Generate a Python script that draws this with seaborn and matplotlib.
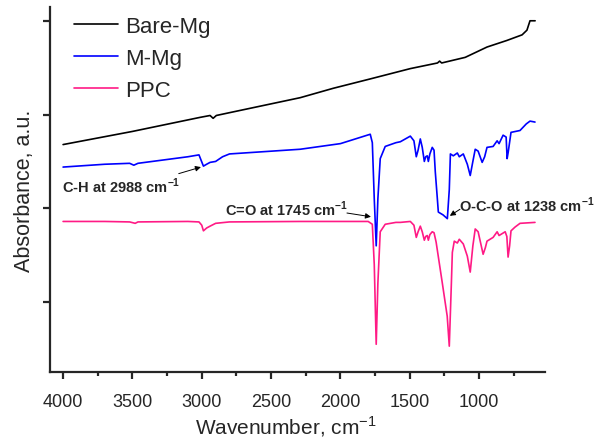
import numpy as np
import pandas as pd
import seaborn as sns
import matplotlib.pyplot as plt

# spectra (wavenumber in cm-1, absorbance in a.u.)
wn_bare = [4000, 3500, 3012, 2940, 2918, 2895, 2800, 2290, 2052, 1785, 1496,
           1300, 1285, 1270, 1100, 943, 800, 690, 655, 633, 610, 596]
abs_bare = [2.68, 2.82, 2.97, 2.99, 2.96, 2.99, 3.02, 3.18, 3.28, 3.38, 3.49,
            3.55, 3.57, 3.55, 3.61, 3.72, 3.79, 3.85, 3.90, 4.00, 4.00, 4.00]

wn_mmg = [4000, 3700, 3520, 3490, 3460, 3100, 3020, 2988, 2965, 2940, 2900,
          2850, 2800, 2290, 2000, 1785, 1770, 1756, 1742, 1730, 1713, 1677,
          1600, 1568, 1496, 1470, 1453, 1440, 1424, 1410, 1395, 1385, 1374,
          1366, 1355, 1338, 1325, 1316, 1301, 1294, 1260, 1229, 1215, 1207,
          1186, 1157, 1143, 1114, 1085, 1064, 1045, 1028, 1007, 978, 960,
          943, 899, 870, 856, 827, 805, 798, 790, 770, 705, 660, 633, 597]
abs_mmg = [2.44, 2.47, 2.48, 2.46, 2.48, 2.55, 2.57, 2.45, 2.47, 2.49, 2.50,
           2.55, 2.58, 2.63, 2.69, 2.79, 2.70, 2.10, 1.60, 2.10, 2.53, 2.66,
           2.70, 2.71, 2.77, 2.72, 2.55, 2.62, 2.74, 2.65, 2.50, 2.55, 2.56,
           2.50, 2.58, 2.65, 2.62, 2.39, 2.10, 1.96, 1.93, 1.89, 2.20, 2.58,
           2.56, 2.59, 2.55, 2.58, 2.47, 2.35, 2.50, 2.63, 2.61, 2.49, 2.55,
           2.65, 2.66, 2.72, 2.69, 2.78, 2.76, 2.53, 2.60, 2.81, 2.83, 2.90, 2.93, 2.92]

wn_ppc = [4000, 3700, 3520, 3480, 3460, 3100, 3020, 3000, 2988, 2965, 2940,
          2900, 2800, 2290, 1800, 1770, 1756, 1742, 1730, 1713, 1677, 1600,
          1568, 1496, 1470, 1453, 1440, 1424, 1410, 1395, 1385, 1374, 1366,
          1355, 1338, 1325, 1310, 1266, 1230, 1215, 1200, 1193, 1179, 1157,
          1143, 1114, 1085, 1064, 1045, 1028, 1007, 971, 955, 943, 899, 870,
          856, 812, 800, 791, 780, 770, 741, 705, 597]
abs_ppc = [1.86, 1.86, 1.855, 1.84, 1.855, 1.86, 1.855, 1.82, 1.76, 1.79, 1.81,
           1.84, 1.855, 1.86, 1.86, 1.83, 1.40, 0.55, 1.20, 1.75, 1.83, 1.85,
           1.85, 1.86, 1.82, 1.69, 1.75, 1.81, 1.75, 1.66, 1.70, 1.71, 1.66,
           1.72, 1.75, 1.74, 1.64, 1.21, 0.85, 0.53, 1.20, 1.53, 1.65, 1.63,
           1.67, 1.62, 1.49, 1.32, 1.60, 1.78, 1.75, 1.51, 1.58, 1.65, 1.69, 1.75,
           1.71, 1.75, 1.70, 1.48, 1.60, 1.76, 1.80, 1.84, 1.85]

samples = ["Bare-Mg", "M-Mg", "PPC"]
colors = ["black", "#0000ff", "#ff1a85"]

# band labels: text, text anchor (wn, A), arrow tail, arrow head
band_text = [r"C-H at 2988 cm$^{\mathbf{-1}}$",
             r"C=O at 1745 cm$^{\mathbf{-1}}$",
             r"O-C-O at 1238 cm$^{\mathbf{-1}}$"]
band_text_pos = [(4010, 2.24), (2834, 2.00), (1147, 2.04)]
band_tail = [(3166, 2.37), (1953, 1.95), (1138, 1.99)]
band_head = [(3006, 2.44), (1780, 1.91), (1211, 1.92)]

df = pd.concat([
    pd.DataFrame({"wn": wn_bare, "A": abs_bare, "sample": "Bare-Mg"}),
    pd.DataFrame({"wn": wn_mmg, "A": abs_mmg, "sample": "M-Mg"}),
    pd.DataFrame({"wn": wn_ppc, "A": abs_ppc, "sample": "PPC"}),
])

sns.set_style("ticks")
plt.rcParams["font.family"] = ["Liberation Sans", "DejaVu Sans"]
plt.rcParams["mathtext.fontset"] = "custom"
plt.rcParams["mathtext.rm"] = "Liberation Sans"
plt.rcParams["mathtext.bf"] = "Liberation Sans:bold"

fig = plt.figure(figsize=(6.03, 4.39), dpi=100)
ax = fig.add_axes([0.083, 0.150, 0.821, 0.832])

sns.lineplot(data=df, x="wn", y="A", hue="sample", hue_order=samples,
             palette=colors, estimator=None, sort=True, lw=1.2, ax=ax)

ax.set_xlim(4094, 524)
ax.set_ylim(0.253, 4.148)
ax.set_xticks([4000, 3500, 3000, 2500, 2000, 1500, 1000])
ax.set_xticks(np.arange(3750, 500, -500), minor=True)
ax.set_yticks([1, 2, 3, 4])
ax.set_yticklabels([])
ax.tick_params(axis="both", which="major", length=5, width=1.6, labelsize=13)
ax.tick_params(axis="x", which="major", pad=10)
ax.tick_params(axis="x", which="minor", length=3, width=1.6)
for s in ["left", "bottom"]:
    ax.spines[s].set_linewidth(1.6)
sns.despine(ax=ax)

ax.set_xlabel(r"Wavenumber, cm$^{-1}$", fontsize=15)
ax.xaxis.set_label_coords(0.476, -0.112)
ax.set_ylabel("Absorbance, a.u.", fontsize=15.5, labelpad=2)

leg = ax.legend(loc="upper left", frameon=False, fontsize=16, handlelength=2.0,
                handletextpad=0.3, bbox_to_anchor=(0.007, 1.03), labelspacing=0.5)
leg.set_title(None)

arrow = dict(arrowstyle="-|>", color="black", lw=0.7, mutation_scale=8,
             shrinkA=0, shrinkB=0)
for txt, pos, tail, head in zip(band_text, band_text_pos, band_tail, band_head):
    ax.text(pos[0], pos[1], txt, fontsize=10.5, fontweight="bold", va="center")
    ax.annotate("", xy=head, xytext=tail, arrowprops=arrow)

fig.savefig("out.png", dpi=100)
